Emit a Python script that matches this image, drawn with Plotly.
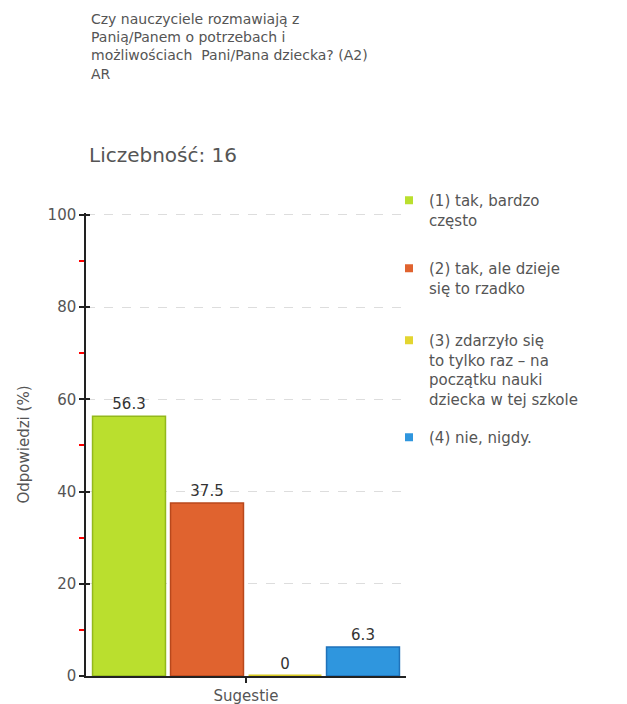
import plotly.graph_objects as go

# ---- data ----
title_lines = [
    "Czy nauczyciele rozmawiają z",
    "Panią/Panem o potrzebach i",
    "możliwościach  Pani/Pana dziecka? (A2)",
    "AR",
]
count_label = "Liczebność: 16"
category = ["Sugestie"]
series_names = [
    "(1) tak, bardzo<br>często",
    "(2) tak, ale dzieje<br>się to rzadko",
    "(3) zdarzyło się<br>to tylko raz – na<br>początku nauki<br>dziecka w tej szkole",
    "(4) nie, nigdy.",
]
values = [56.3, 37.5, 0, 6.3]
value_labels = ["56.3", "37.5", "0", "6.3"]
y_ticks = [0, 20, 40, 60, 80, 100]
y_minor_ticks = [10, 30, 50, 70, 90]
y_title = "Odpowiedzi (%)"

fill_colors = ["#BADF2E", "#E0632F", "#E3D530", "#2F96DE"]
line_colors = ["#93B81C", "#B9481C", "#D8C820", "#1F72BA"]

FONT = "DejaVu Sans"
GRAY = "#555555"

# the page body adds an 8px margin; work in window pixels and offset
OFF = 8
W, H = 627 - OFF, 704 - OFF
L, R, T, B = 86 - OFF, 221, 213 - OFF, 28
pw, ph = W - L - R, H - T - B


def px_x(x):
    return (x - OFF - L) / pw


def px_y(y):
    return (H - B - (y - OFF)) / ph


fig = go.Figure()

for i, (name, v) in enumerate(zip(series_names, values)):
    fig.add_trace(go.Bar(
        x=category, y=[v], name=name,
        marker=dict(color=fill_colors[i],
                    line=dict(color=line_colors[i], width=3 if v == 0 else 1.5)),
        text=[value_labels[i]], textposition="outside", cliponaxis=False,
        textfont=dict(family=FONT, size=15, color="#333333"),
        showlegend=False, hoverinfo="skip",
    ))

legend_tops = [184, 252, 324, 421]
legend_keys = ["legend", "legend2", "legend3", "legend4"]
for i, name in enumerate(series_names):
    fig.add_trace(go.Scatter(
        x=[None], y=[None], mode="markers", name=name,
        marker=dict(symbol="square", size=8, color=fill_colors[i]),
        legend=legend_keys[i], showlegend=True,
    ))

# overlay axis to produce ticks crossing the y axis line
fig.add_trace(go.Scatter(x=[None], y=[None], yaxis="y2", showlegend=False))

leg_common = dict(
    font=dict(family=FONT, size=15, color=GRAY),
    bgcolor="rgba(0,0,0,0)", borderwidth=0,
    xanchor="left", yanchor="top", valign="top",
)
layout_legends = {}
for key, top in zip(legend_keys, legend_tops):
    layout_legends[key] = dict(x=px_x(389), y=px_y(top), **leg_common)

annotations = [dict(
    text="<br>".join(title_lines), xref="paper", yref="paper", x=px_x(89), y=px_y(9),
    xanchor="left", yanchor="top", align="left", showarrow=False,
    font=dict(family=FONT, size=14, color=GRAY),
)]
annotations.append(dict(
    text=count_label, xref="paper", yref="paper", x=px_x(87), y=px_y(155),
    xanchor="left", yanchor="middle", showarrow=False,
    font=dict(family=FONT, size=20, color=GRAY),
))

Y_RANGE = [0, 100.4]

fig.update_layout(
    width=W, height=H,
    margin=dict(l=L, r=R, t=T, b=B, pad=0, autoexpand=False),
    paper_bgcolor="white", plot_bgcolor="white",
    barmode="group", bargap=0.025, bargroupgap=0.065,
    font=dict(family=FONT, size=15, color=GRAY),
    annotations=annotations,
    xaxis=dict(
        type="category", showline=True, linecolor="#222222", linewidth=1.5,
        ticks="outside", ticklen=5, tickcolor="#222222", tickwidth=1.5,
        showgrid=False, tickfont=dict(family=FONT, size=15, color=GRAY),
        fixedrange=True, automargin=False, layer="below traces",
    ),
    yaxis=dict(
        range=Y_RANGE, tickvals=y_ticks, showline=True, linecolor="#222222", linewidth=1.5,
        ticks="outside", ticklen=5, tickcolor="#222222", tickwidth=1.5,
        showgrid=True, gridcolor="#DDDDDD", griddash="dash", gridwidth=1,
        zeroline=False, automargin=False,
        tickfont=dict(family=FONT, size=15, color=GRAY),
        title=dict(text=y_title, font=dict(family=FONT, size=15, color=GRAY), standoff=14),
        minor=dict(tickvals=y_minor_ticks, ticks="outside", ticklen=5, tickcolor="#FF0000",
                   tickwidth=1.5, showgrid=False),
        fixedrange=True,
    ),
    yaxis2=dict(
        range=Y_RANGE, tickvals=y_ticks, overlaying="y", side="left",
        showline=False, ticks="inside", ticklen=4, tickcolor="#222222", tickwidth=1.5,
        showticklabels=False, showgrid=False, zeroline=False, fixedrange=True,
        automargin=False,
    ),
    **layout_legends,
)

fig.write_html("out.html")
